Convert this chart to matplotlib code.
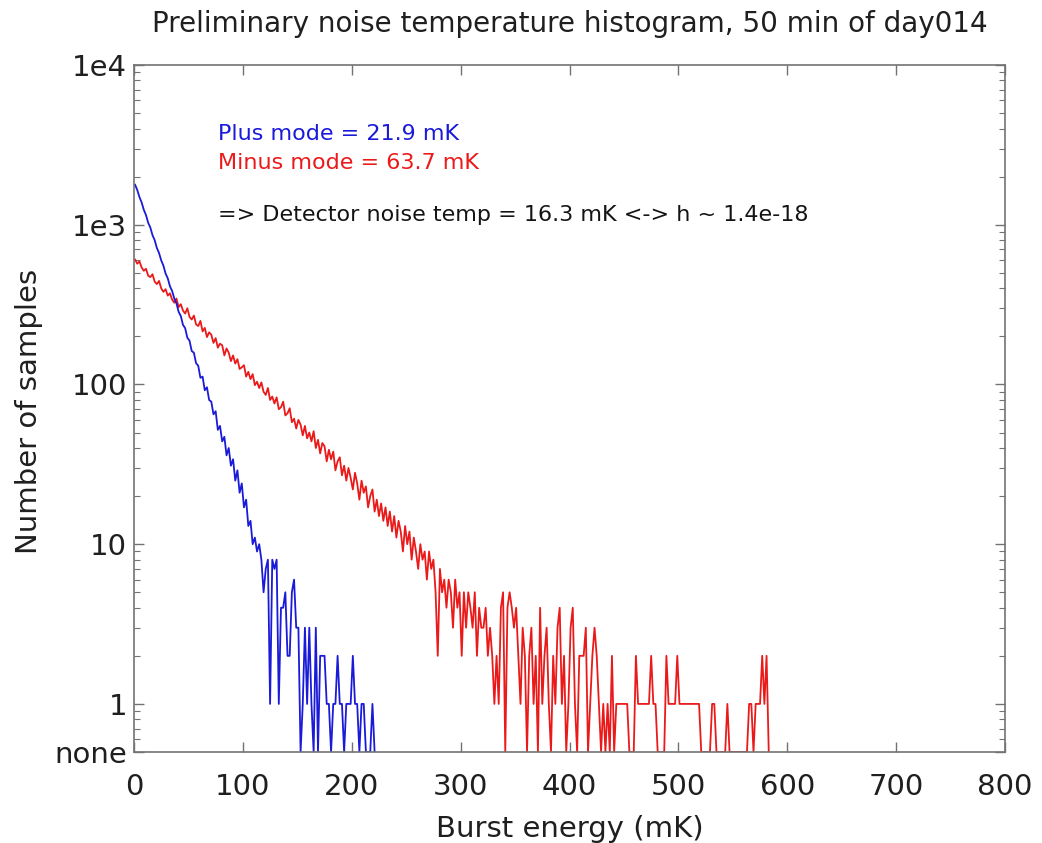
import numpy as np
import matplotlib
matplotlib.use("Agg")
import matplotlib.pyplot as plt

# ---- data (bin width 2 mK, counts per bin; 0 = "none") ----
bin_width = 2
plus_counts = [
    1780, 1650, 1490, 1380, 1240, 1150, 1030, 960, 860, 800,
    715, 665, 598, 555, 495, 462, 412, 385, 345, 322,
    285, 268, 236, 225, 196, 188, 162, 158, 136, 131,
    110, 112, 92, 96, 80, 78, 65, 68, 52, 55,
    44, 47, 36, 40, 31, 34, 25, 29, 21, 24,
    17, 19, 13, 14, 10, 11, 9, 10, 8, 5,
    7, 8, 1, 8, 7, 8, 1, 4, 4, 5,
    2, 2, 5, 6, 3, 3, 0, 1, 3, 1,
    3, 1, 0, 3, 0, 2, 2, 2, 1, 1,
    0, 1, 1, 2, 1, 1, 0, 1, 1, 1,
    2, 1, 1, 0, 1, 1, 0, 0, 0, 1,
    0,
]
minus_counts = [
    605, 570, 590, 540, 515, 530, 480, 470, 490, 440,
    425, 445, 400, 380, 395, 360, 372, 340, 325, 345,
    305, 318, 290, 278, 300, 265, 255, 270, 238, 232,
    250, 215, 226, 198, 212, 205, 182, 195, 170, 180,
    176, 152, 168, 158, 140, 152, 135, 144, 125, 128,
    132, 112, 120, 108, 116, 99, 104, 95, 103, 90,
    86, 95, 80, 84, 76, 83, 70, 72, 78, 64,
    66, 71, 58, 61, 53, 60, 56, 48, 55, 46,
    50, 44, 51, 40, 45, 37, 43, 41, 33, 39,
    34, 38, 29, 33, 35, 27, 31, 25, 30, 26,
    22, 28, 24, 19, 25, 21, 23, 17, 20, 22,
    16, 19, 15, 18, 14, 17, 13, 16, 12, 15,
    11, 14, 12, 9, 13, 10, 12, 8, 11, 9,
    7, 10, 8, 9, 6, 9, 7, 8, 5, 2,
    7, 5, 6, 4, 6, 5, 3, 6, 4, 5,
    2, 5, 3, 5, 4, 3, 5, 2, 4, 3,
    3, 4, 2, 3, 2, 1, 2, 1, 4, 5,
    0, 4, 5, 4, 3, 4, 2, 1, 3, 2,
    0, 2, 3, 1, 2, 0, 4, 1, 2, 3,
    1, 0, 2, 1, 3, 4, 1, 2, 0, 1,
    3, 4, 1, 0, 2, 2, 2, 3, 0, 1,
    2, 3, 2, 1, 0, 1, 0, 1, 0, 2,
    0, 1, 1, 1, 1, 1, 1, 0, 0, 0,
    2, 1, 1, 1, 1, 1, 1, 2, 1, 1,
    0, 0, 0, 0, 2, 1, 1, 1, 1, 2,
    1, 1, 1, 1, 1, 1, 1, 1, 1, 1,
    0, 0, 0, 0, 0, 1, 1, 0, 0, 0,
    0, 0, 1, 0, 0, 0, 0, 0, 0, 0,
    0, 0, 1, 1, 0, 1, 1, 1, 2, 1,
    2, 0,
]
ytick_values = [0.5, 1, 10, 100, 1e3, 1e4]
ytick_labels = ["none", "1", "10", "100", "1e3", "1e4"]
xtick_values = [0, 100, 200, 300, 400, 500, 600, 700, 800]
title = "Preliminary noise temperature histogram, 50 min of day014"
xlabel = "Burst energy (mK)"
ylabel = "Number of samples"
plus_text = "Plus mode = 21.9 mK"
minus_text = "Minus mode = 63.7 mK"
result_text = "=> Detector noise temp = 16.3 mK <-> h ~ 1.4e-18"

NONE_LEVEL = 0.5

def prep(counts):
    c = np.asarray(counts, dtype=float)
    x = np.arange(len(c)) * bin_width + bin_width / 2
    c = np.where(c <= 0, NONE_LEVEL, c)
    return x, c

plt.rcParams['font.family'] = ['DejaVu Sans']
fig = plt.figure(figsize=(10.42, 8.43), dpi=100)
ax = fig.add_axes([134/1042, 1 - 752/843, (1005-134)/1042, (752-65)/843])

BLUE = (0.1, 0.1, 0.85)
RED = (0.92, 0.1, 0.1)

xm, ym = prep(minus_counts)
xp, yp = prep(plus_counts)
ax.plot(xm, ym, color=RED, lw=1.3)
ax.plot(xp, yp, color=BLUE, lw=1.3)

ax.set_yscale('log')
ax.set_ylim(NONE_LEVEL, 1e4)
ax.set_xlim(0, 800)
ax.set_yticks(ytick_values)
ax.set_yticklabels(ytick_labels)
ax.set_xticks(xtick_values)
ax.yaxis.set_minor_locator(matplotlib.ticker.LogLocator(base=10, subs=np.arange(2, 10)))
ax.yaxis.set_minor_formatter(matplotlib.ticker.NullFormatter())

TEXTC = (0.12, 0.12, 0.12)
SPINEC = (0.45, 0.45, 0.45)
for s in ax.spines.values():
    s.set_color(SPINEC)
    s.set_linewidth(1.2)
ax.tick_params(which='both', direction='in', top=True, right=True,
               color=SPINEC, labelcolor=TEXTC, labelsize=21)
ax.tick_params(which='major', length=7, width=1)
ax.tick_params(which='minor', length=4, width=0.8)
ax.tick_params(axis='x', pad=15)
ax.tick_params(axis='y', pad=5)

ax.set_title(title, fontsize=20, color=TEXTC, pad=24)
ax.set_xlabel(xlabel, fontsize=21, color=TEXTC, labelpad=10)
ax.set_ylabel(ylabel, fontsize=21, color=TEXTC)
ax.yaxis.set_label_coords(-0.104, 0.496)

fig.text(218/1042, 1 - 140/843, plus_text, color=BLUE,
         fontsize=16, va='baseline', ha='left')
fig.text(218/1042, 1 - 169/843, minus_text, color=RED,
         fontsize=16, va='baseline', ha='left')
fig.text(218/1042, 1 - 221/843, result_text, color=(0.08, 0.08, 0.08),
         fontsize=16, va='baseline', ha='left')

fig.savefig("out.png", dpi=100)
